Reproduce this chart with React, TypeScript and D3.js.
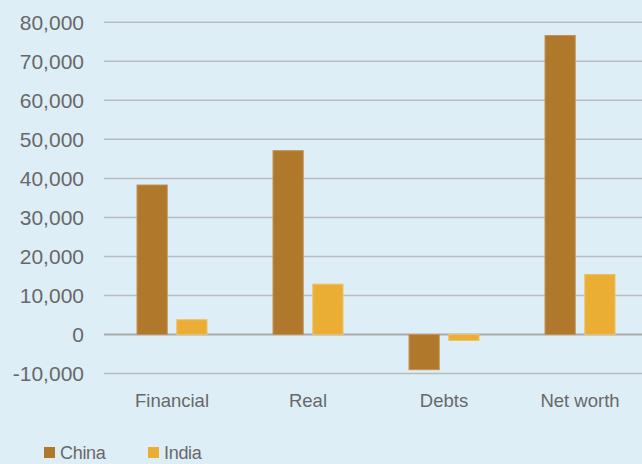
import React from "react";
import * as d3 from "d3";

const categories = ["Financial", "Real", "Debts", "Net worth"];
const series = ["China", "India"];
const chinaValues = [38300, 47100, -9000, 76600];
const indiaValues = [3800, 12900, -1500, 15400];
const tickValues = [-10000, 0, 10000, 20000, 30000, 40000, 50000, 60000, 70000, 80000];

const W = 642;
const H = 464;
const colors = ["#b0782b", "#ebae35"];
const strokes = ["#c49257", "#f0c064"];

export default function App() {
  const x = d3.scaleBand<string>().domain(categories).range([104, 648]).paddingInner(0).paddingOuter(0);
  const inner = d3.scaleBand<string>().domain(series).range([0, 70]).paddingInner(0.24);
  const y = d3.scaleLinear().domain([-10000, 80000]).range([373.6, 22.2]);
  const fmt = (v: number) => d3.format(",")(v).replace("\u2212", "-");
  const data = [chinaValues, indiaValues];

  return (
    <>
      <style>{`body{margin:0;}`}</style>
      <svg width={W} height={H} style={{ display: "block", fontFamily: "'Liberation Sans', Arial, sans-serif" }}>
        <rect x={0} y={0} width={W} height={H} fill="#deeef7" />
        {tickValues.map((t) => (
          <g key={t}>
            <line x1={104} x2={W} y1={y(t)} y2={y(t)} stroke={t === 0 ? "#a9abad" : "#b9bcbf"} strokeWidth={t === 0 ? 2 : 1.5} />
            <text x={84} y={y(t)} dy="0.36em" textAnchor="end" fontSize={21} fill="#686868">
              {fmt(t)}
            </text>
          </g>
        ))}
        {categories.map((c, i) => (
          <g key={c} transform={`translate(${x(c)! + (x.bandwidth() - 70) / 2},0)`}>
            {series.map((s, j) => {
              const v = data[j][i];
              const y0 = y(0);
              const yv = y(v);
              return (
                <rect
                  key={s}
                  x={inner(s)!}
                  y={Math.min(y0, yv)}
                  width={inner.bandwidth()}
                  height={Math.abs(yv - y0)}
                  fill={colors[j]}
                  stroke={strokes[j]}
                  strokeWidth={1}
                />
              );
            })}
          </g>
        ))}
        {categories.map((c) => (
          <text key={c} x={x(c)! + x.bandwidth() / 2} y={407} textAnchor="middle" fontSize={18.5} fill="#686868">
            {c}
          </text>
        ))}
        {series.map((s, j) => {
          const lx = [44, 148][j];
          return (
            <g key={s}>
              <rect x={lx} y={447} width={11} height={11} fill={colors[j]} />
              <text x={lx + 16} y={458.5} fontSize={18} letterSpacing={-0.3} fill="#686868">
                {s}
              </text>
            </g>
          );
        })}
      </svg>
    </>
  );
}
